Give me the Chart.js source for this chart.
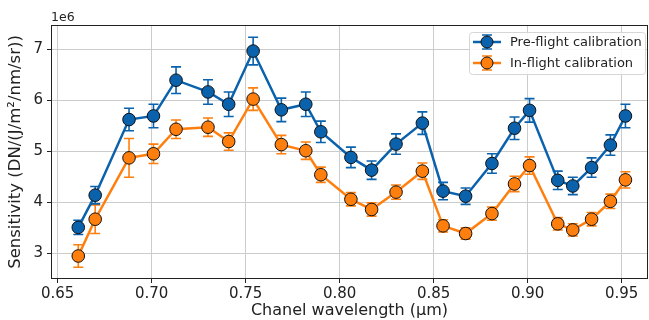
<!DOCTYPE html>
<html>
<head>
<meta charset="utf-8">
<script src="https://cdn.jsdelivr.net/npm/chart.js@4/dist/chart.umd.min.js"></script>
<style>
  html, body { margin: 0; padding: 0; background: #fff; }
  #wrap { width: 649px; height: 320px; }
</style>
</head>
<body>
<div id="wrap"><canvas id="sensChart"></canvas></div>
<script>
// channel wavelengths (um)
var wavelength = [0.661, 0.670, 0.688, 0.701, 0.713, 0.730, 0.741, 0.754, 0.769, 0.782, 0.790,
  0.806, 0.817, 0.830, 0.844, 0.855, 0.867, 0.881, 0.893, 0.901, 0.916, 0.924, 0.934, 0.944, 0.952];

// sensitivity, units of 1e6
var preFlight = [3.51, 4.14, 5.62, 5.69, 6.39, 6.16, 5.92, 6.96, 5.81, 5.92, 5.38,
  4.88, 4.63, 5.14, 5.55, 4.22, 4.12, 4.76, 5.45, 5.80, 4.43, 4.32, 4.68, 5.12, 5.69];
var preFlightErr = [0.14, 0.17, 0.22, 0.23, 0.26, 0.24, 0.24, 0.27, 0.23, 0.24, 0.21,
  0.20, 0.18, 0.20, 0.22, 0.17, 0.16, 0.19, 0.22, 0.23, 0.18, 0.17, 0.19, 0.20, 0.23];

var inFlight = [2.95, 3.67, 4.87, 4.95, 5.43, 5.47, 5.19, 6.02, 5.13, 5.01, 4.54,
  4.06, 3.86, 4.20, 4.61, 3.54, 3.39, 3.78, 4.36, 4.72, 3.58, 3.46, 3.67, 4.02, 4.44];
var inFlightErr = [0.22, 0.28, 0.38, 0.19, 0.18, 0.18, 0.17, 0.22, 0.18, 0.17, 0.15,
  0.13, 0.13, 0.14, 0.16, 0.12, 0.11, 0.13, 0.15, 0.17, 0.12, 0.12, 0.13, 0.14, 0.16];

var xTicks = [0.65, 0.70, 0.75, 0.80, 0.85, 0.90, 0.95];
var yTicks = [3, 4, 5, 6, 7];

var blue = "#0a62ad";
var orange = "#ff7f0e";

function toPoints(ys) {
  return wavelength.map(function (w, i) { return { x: w, y: ys[i] }; });
}

// error bars drawn with the chart's own scales, under each dataset
var errorBars = {
  id: "errorBars",
  beforeDatasetDraw: function (chart, args) {
    var ds = chart.data.datasets[args.index];
    if (!ds.errors) return;
    var xs = chart.scales.x, ys = chart.scales.y;
    var ctx = chart.ctx;
    ctx.save();
    ctx.strokeStyle = ds.borderColor;
    ctx.lineWidth = 1.6;
    ds.data.forEach(function (p, i) {
      var px = xs.getPixelForValue(p.x);
      var top = ys.getPixelForValue(p.y + ds.errors[i]);
      var bot = ys.getPixelForValue(p.y - ds.errors[i]);
      ctx.beginPath();
      ctx.moveTo(px, top); ctx.lineTo(px, bot);
      ctx.moveTo(px - 5, top); ctx.lineTo(px + 5, top);
      ctx.moveTo(px - 5, bot); ctx.lineTo(px + 5, bot);
      ctx.stroke();
    });
    ctx.restore();
  }
};

// spines, offset text and legend box
var frame = {
  id: "frame",
  afterDatasetsDraw: function (chart) {
    var a = chart.chartArea, ctx = chart.ctx;
    ctx.save();
    ctx.strokeStyle = "#222";
    ctx.lineWidth = 1;
    ctx.strokeRect(a.left + 0.5, a.top + 0.5, a.right - a.left - 1, a.bottom - a.top - 1);

    ctx.fillStyle = "#222";
    ctx.font = "12.5px 'DejaVu Sans'";
    ctx.textBaseline = "alphabetic";
    ctx.textAlign = "left";
    ctx.fillText("1e6", a.left, a.top - 4);

    // legend
    var bx = 469, by = 32, bw = 176, bh = 42;
    ctx.fillStyle = "rgba(255,255,255,0.85)";
    ctx.strokeStyle = "#d6d6d6";
    ctx.beginPath();
    ctx.roundRect(bx + 0.5, by + 0.5, bw, bh, 3);
    ctx.fill(); ctx.stroke();
    chart.data.datasets.forEach(function (ds, i) {
      var cy = by + 10 + i * 21;
      ctx.strokeStyle = ds.borderColor;
      ctx.lineWidth = 2.5;
      ctx.beginPath(); ctx.moveTo(473, cy); ctx.lineTo(501, cy); ctx.stroke();
      ctx.lineWidth = 1.6;
      ctx.beginPath();
      ctx.moveTo(487, cy - 7); ctx.lineTo(487, cy + 7);
      ctx.moveTo(482, cy - 7); ctx.lineTo(492, cy - 7);
      ctx.moveTo(482, cy + 7); ctx.lineTo(492, cy + 7);
      ctx.stroke();
      ctx.fillStyle = ds.backgroundColor;
      ctx.strokeStyle = "#111";
      ctx.lineWidth = 1;
      ctx.beginPath(); ctx.arc(487, cy, 6, 0, Math.PI * 2); ctx.fill(); ctx.stroke();
      ctx.fillStyle = "#222";
      ctx.font = "13px 'DejaVu Sans'";
      ctx.textBaseline = "middle";
      ctx.fillText(ds.label, 510, cy + 1);
    });
    ctx.restore();
  }
};

new Chart("sensChart", {
  type: "scatter",
  data: {
    datasets: [{
      label: "Pre-flight calibration",
      data: toPoints(preFlight),
      errors: preFlightErr,
      showLine: true,
      borderColor: blue,
      backgroundColor: blue,
      borderWidth: 2.5,
      pointRadius: 6.3,
      pointBorderColor: "#111",
      pointBorderWidth: 1,
      pointHoverRadius: 6.3
    }, {
      label: "In-flight calibration",
      data: toPoints(inFlight),
      errors: inFlightErr,
      showLine: true,
      borderColor: orange,
      backgroundColor: orange,
      borderWidth: 2.5,
      pointRadius: 6.3,
      pointBorderColor: "#111",
      pointBorderWidth: 1,
      pointHoverRadius: 6.3
    }]
  },
  options: {
    responsive: true,
    maintainAspectRatio: false,
    animation: false,
    layout: { autoPadding: false, padding: { top: 25, right: 1, left: 0, bottom: 0 } },
    plugins: {
      legend: { display: false },
      tooltip: { enabled: false }
    },
    scales: {
      x: {
        type: "linear",
        min: 0.6465,
        max: 0.964,
        afterBuildTicks: function (axis) { axis.ticks = xTicks.map(function (v) { return { value: v }; }); },
        afterFit: function (axis) { axis.height = 41; axis.paddingLeft = 0; axis.paddingRight = 0; },
        ticks: {
          color: "#222",
          font: { family: "'DejaVu Sans'", size: 15 },
          padding: 2,
          maxRotation: 0,
          callback: function (v) { return v.toFixed(2); }
        },
        grid: { color: "#cccccc", lineWidth: 1, tickLength: 4, tickColor: "#222" },
        border: { display: false },
        title: {
          display: true,
          text: "Chanel wavelength (\u03bcm)",
          color: "#222",
          font: { family: "'DejaVu Sans'", size: 16 },
          padding: { top: 2, bottom: 0 }
        }
      },
      y: {
        min: 2.5,
        max: 7.47,
        afterBuildTicks: function (axis) { axis.ticks = yTicks.map(function (v) { return { value: v }; }); },
        afterFit: function (axis) { axis.width = 51; },
        ticks: {
          color: "#222",
          font: { family: "'DejaVu Sans'", size: 15 },
          padding: 4
        },
        grid: { color: "#cccccc", lineWidth: 1, tickLength: 4, tickColor: "#222" },
        border: { display: false },
        title: {
          display: true,
          text: "Sensitivity (DN/(J/m\u00b2/nm/sr))",
          color: "#222",
          font: { family: "'DejaVu Sans'", size: 16.5 },
          padding: { top: 6, bottom: 0 }
        }
      }
    }
  },
  plugins: [errorBars, frame]
});
</script>
</body>
</html>
